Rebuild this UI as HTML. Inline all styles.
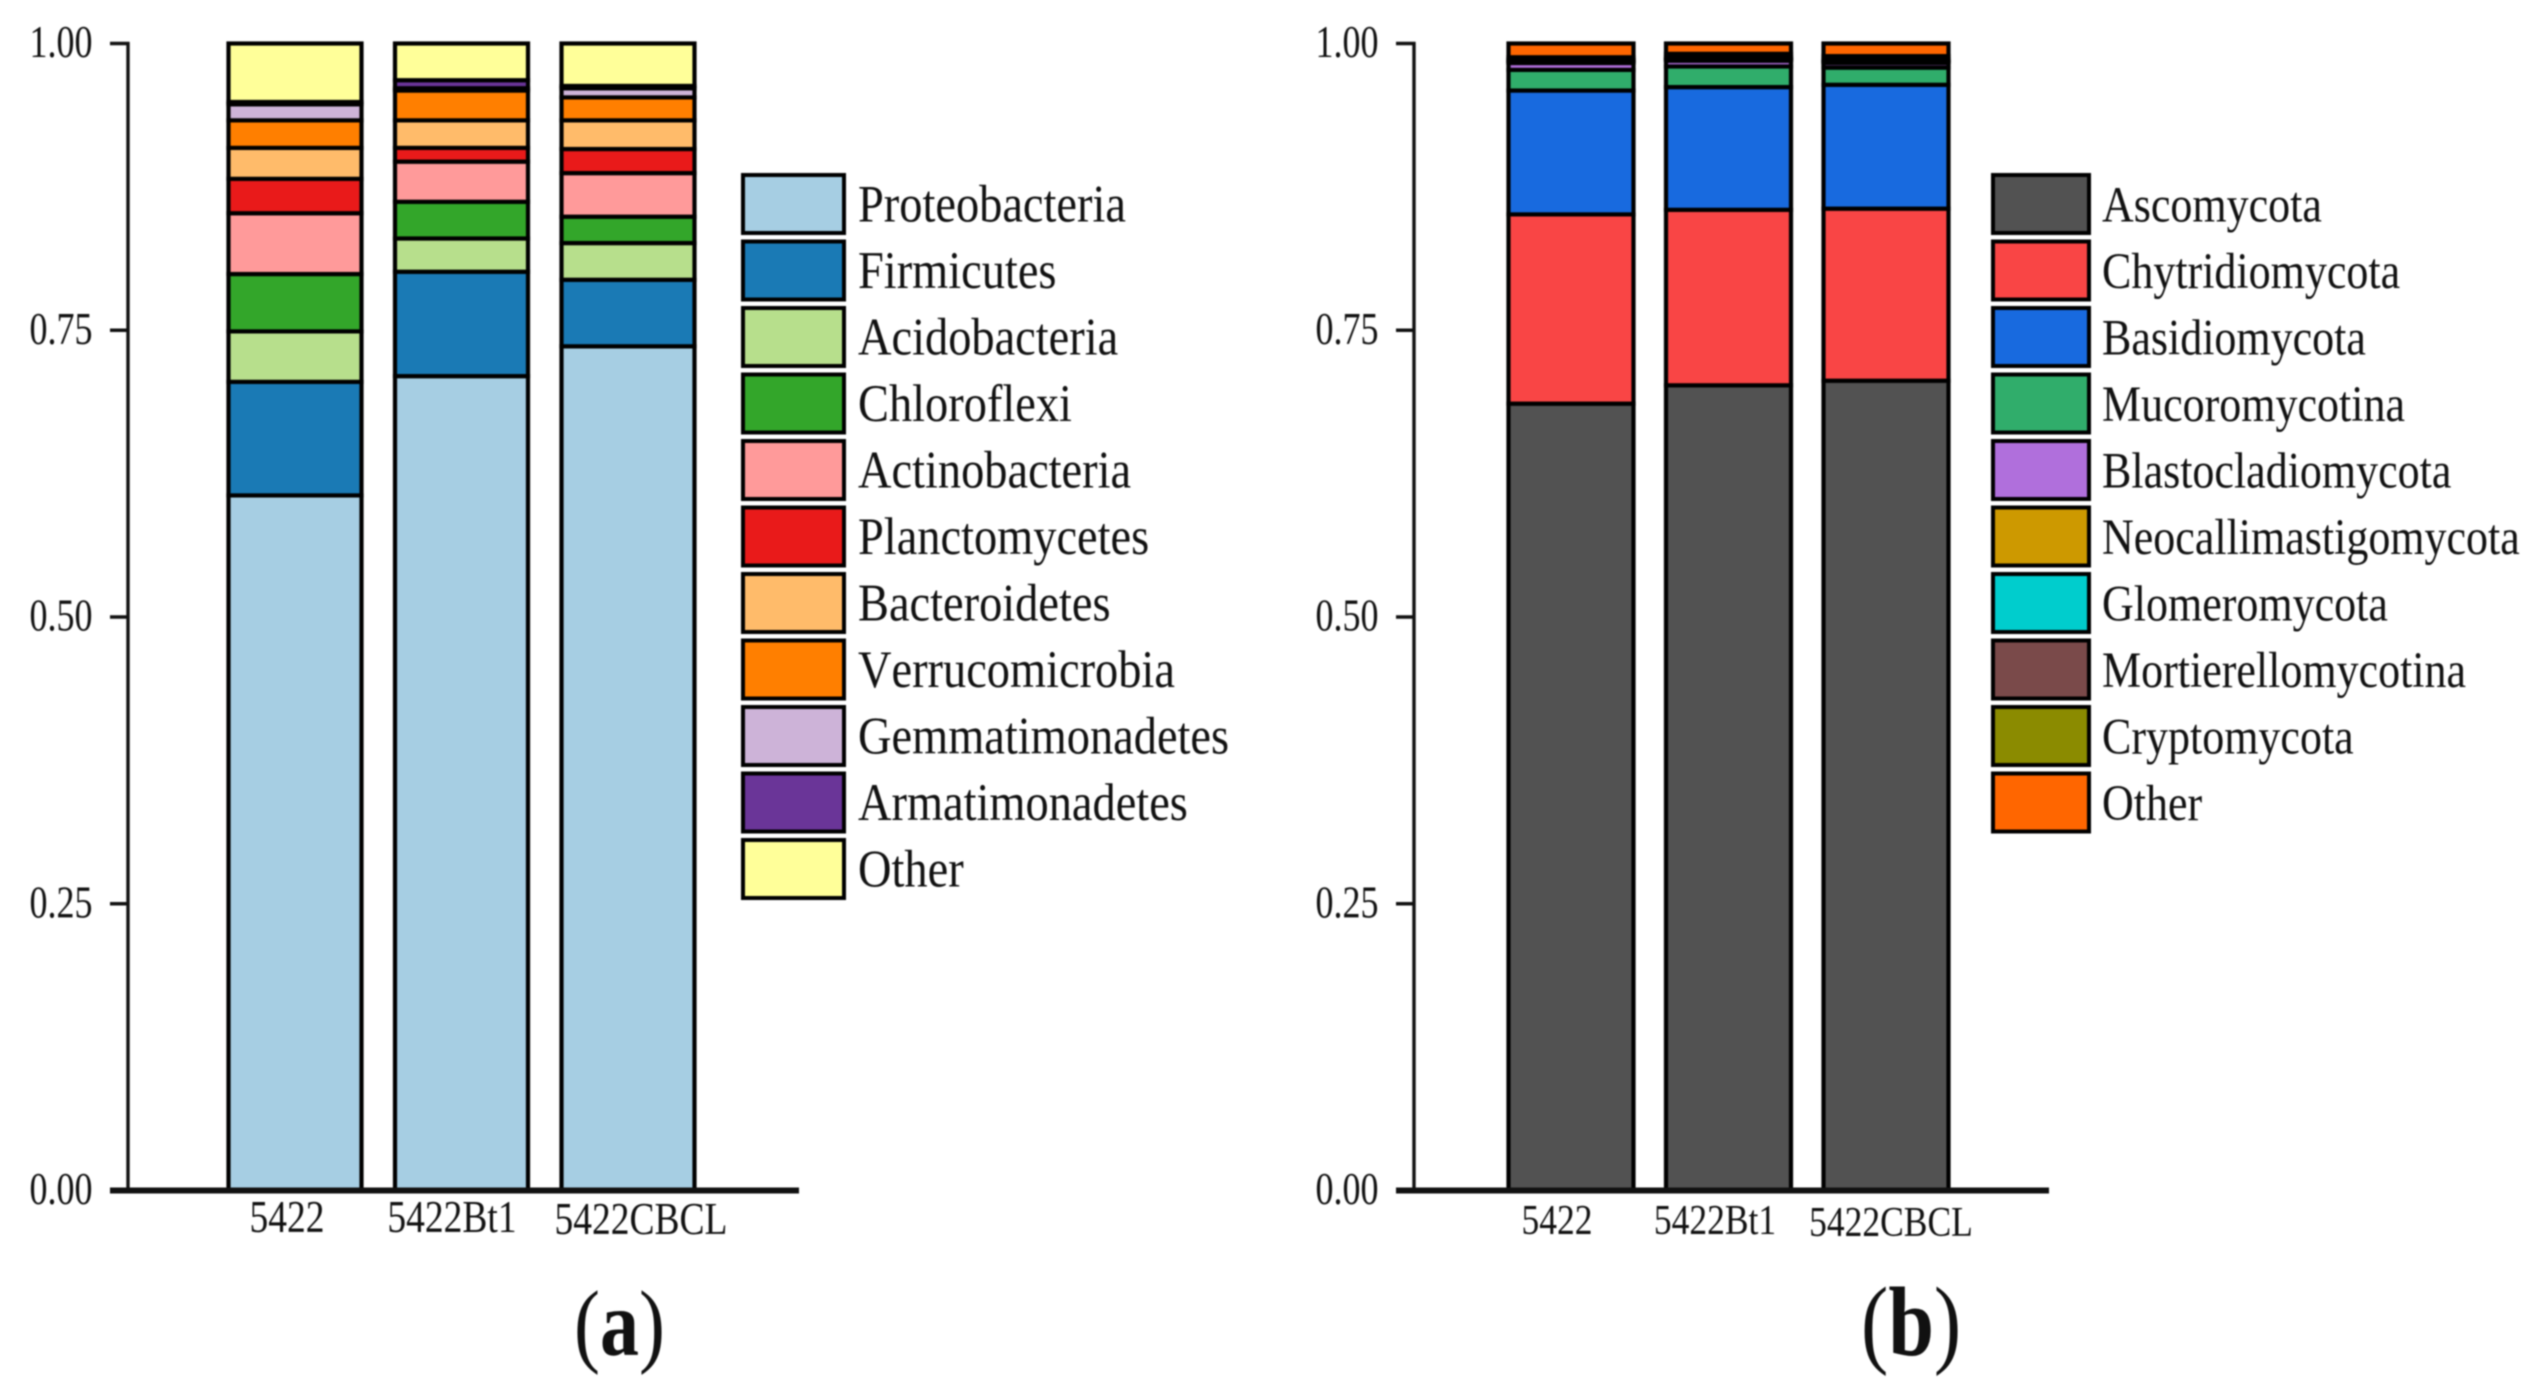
<!DOCTYPE html>
<html lang="en">
<head>
<meta charset="utf-8">
<title>Relative abundance of bacterial and fungal phyla</title>
<style>
html,body{margin:0;padding:0;background:#fff;width:2542px;height:1393px;overflow:hidden}
svg{display:block;filter:blur(0.7px)}
text{font-family:"Liberation Serif",serif;fill:#111;font-kerning:none}
</style>
</head>
<body>
<svg id="figure" xmlns="http://www.w3.org/2000/svg" width="2542" height="1393" viewBox="0 0 2542 1393"></svg>
<script>
// Shared data
const sampleLabels = ['5422', '5422Bt1', '5422CBCL'];
const tickValues = [0, 0.25, 0.5, 0.75, 1];
const tickLabels = ['0.00', '0.25', '0.50', '0.75', '1.00'];

// Panel (a): bacteria
const bacteriaNames = ['Proteobacteria','Firmicutes','Acidobacteria','Chloroflexi','Actinobacteria','Planctomycetes','Bacteroidetes','Verrucomicrobia','Gemmatimonadetes','Armatimonadetes','Other'];
const bacteriaColors = ['#a6cee3','#1a7ab5','#b7df8c','#33a62a','#ff9a9a','#e91a1a','#ffbb6a','#ff7f00','#cdb3d8','#6a3598','#ffff99'];
const proteobacteria = [0.606, 0.710, 0.736];
const firmicutes = [0.099, 0.091, 0.058];
const acidobacteria = [0.044, 0.029, 0.032];
const chloroflexi = [0.050, 0.032, 0.023];
const actinobacteria = [0.053, 0.035, 0.038];
const planctomycetes = [0.030, 0.012, 0.021];
const bacteroidetes = [0.027, 0.024, 0.025];
const verrucomicrobia = [0.024, 0.026, 0.020];
const gemmatimonadetes = [0.014, 0.002, 0.008];
const armatimonadetes = [0.002, 0.007, 0.002];
const otherBacteria = [0.051, 0.032, 0.037];
const bacteriaSeries = [proteobacteria, firmicutes, acidobacteria, chloroflexi, actinobacteria, planctomycetes, bacteroidetes, verrucomicrobia, gemmatimonadetes, armatimonadetes, otherBacteria];

// Panel (b): fungi
const fungiNames = ['Ascomycota','Chytridiomycota','Basidiomycota','Mucoromycotina','Blastocladiomycota','Neocallimastigomycota','Glomeromycota','Mortierellomycotina','Cryptomycota','Other'];
const fungiColors = ['#525252','#f94545','#186adf','#30ad6b','#b06fdc','#cd9900','#00cdcd','#7a4a4a','#8b8b00','#ff6600'];
const ascomycota = [0.686, 0.702, 0.706];
const chytridiomycota = [0.165, 0.153, 0.150];
const basidiomycota = [0.108, 0.107, 0.108];
const mucoromycotina = [0.018, 0.018, 0.015];
const blastocladiomycota = [0.006, 0.005, 0.004];
const neocallimastigomycota = [0.001, 0.001, 0.001];
const glomeromycota = [0.001, 0.001, 0.001];
const mortierellomycotina = [0.001, 0.001, 0.001];
const cryptomycota = [0.002, 0.003, 0.003];
const otherFungi = [0.012, 0.009, 0.011];
const fungiSeries = [ascomycota, chytridiomycota, basidiomycota, mucoromycotina, blastocladiomycota, neocallimastigomycota, glomeromycota, mortierellomycotina, cryptomycota, otherFungi];

const NS = 'http://www.w3.org/2000/svg';
const figure = document.getElementById('figure');

function slug(s) {
  return s.toLowerCase().replace(/[^a-z0-9]+/g, '-');
}

function yScale(v) {
  return 1190.5 - v * 1147;
}

function addLine(parent, x1, y1, x2, y2, w, name) {
  const el = document.createElementNS(NS, 'line');
  el.setAttribute('x1', x1);
  el.setAttribute('y1', y1);
  el.setAttribute('x2', x2);
  el.setAttribute('y2', y2);
  el.setAttribute('stroke', '#111');
  el.setAttribute('stroke-width', w);
  
  
  parent.appendChild(el);
  return el;
}

function addText(parent, str, x, y, size, sy, anchor, name) {
  const el = document.createElementNS(NS, 'text');
  el.textContent = str;
  el.setAttribute('transform', 'translate(' + x + ' ' + y + ') scale(1 ' + sy + ')');
  el.setAttribute('font-size', size);
  el.setAttribute('text-anchor', anchor);
  
  
  parent.appendChild(el);
  return el;
}

function drawPanel(cfg) {
  const g = document.createElementNS(NS, 'g');
  
  
  figure.appendChild(g);

  const xScale = function (i) {
    return cfg.barStart + i * cfg.barStep;
  };

  // bars
  sampleLabels.forEach(function (label, i) {
    const bar = document.createElementNS(NS, 'g');
    
    
    g.appendChild(bar);
    let cum = 0;
    cfg.series.forEach(function (vals, s) {
      const top = cum + vals[i];
      const rect = document.createElementNS(NS, 'rect');
      rect.setAttribute('x', xScale(i));
      rect.setAttribute('y', yScale(top));
      rect.setAttribute('width', cfg.barWidth);
      rect.setAttribute('height', yScale(cum) - yScale(top));
      rect.setAttribute('fill', cfg.colors[s]);
      rect.setAttribute('stroke', '#000');
      rect.setAttribute('stroke-width', 4.2);
      
      
      bar.appendChild(rect);
      cum = top;
    });
  });

  // y axis
  addLine(g, cfg.axisX, yScale(1) - 1.5, cfg.axisX, yScale(0), 3.4, 'y-axis-line');
  tickValues.forEach(function (v, i) {
    addLine(g, cfg.axisX - 18, yScale(v), cfg.axisX + 1.5, yScale(v), 3.4, 'y-tick');
    addText(g, tickLabels[i], cfg.axisX - 35.5, yScale(v) + 13.5, 36, 1.26, 'end', 'y-tick-label');
  });

  // x axis
  addLine(g, cfg.xAxisStart, yScale(0), cfg.xAxisEnd, yScale(0), 6, 'x-axis-line');
  sampleLabels.forEach(function (label, i) {
    addText(g, label, cfg.labelX[i], cfg.labelY[i], cfg.labelSize, 1.2, 'middle', 'x-label-' + slug(label));
  });

  // legend
  const legend = document.createElementNS(NS, 'g');
  
  
  g.appendChild(legend);
  cfg.names.forEach(function (n, i) {
    const top = 175 + i * 66.5;
    const sw = document.createElementNS(NS, 'rect');
    sw.setAttribute('x', cfg.legendX);
    sw.setAttribute('y', top);
    sw.setAttribute('width', cfg.legendW);
    sw.setAttribute('height', 58);
    sw.setAttribute('fill', cfg.colors[i]);
    sw.setAttribute('stroke', '#000');
    sw.setAttribute('stroke-width', 4);
    
    
    legend.appendChild(sw);
    addText(legend, n, cfg.legendTextX, 221.5 + i * 66.5, cfg.legendSize, 1.15, 'start', 'legend-label-' + slug(n));
  });

  // panel letter
  const letter = document.createElementNS(NS, 'text');
  letter.setAttribute('transform', 'translate(' + cfg.letterX + ' 1355) scale(1 1.2)');
  letter.setAttribute('font-size', cfg.letterSize);
  
  
  const t1 = document.createElementNS(NS, 'tspan');
  t1.textContent = '(';
  const t2 = document.createElementNS(NS, 'tspan');
  t2.textContent = cfg.letter;
  t2.setAttribute('font-weight', 'bold');
  const t3 = document.createElementNS(NS, 'tspan');
  t3.textContent = ')';
  letter.appendChild(t1);
  letter.appendChild(t2);
  letter.appendChild(t3);
  g.appendChild(letter);
}

drawPanel({
  name: 'panel-a-bacteria', letter: 'a', letterX: 574, letterSize: 78,
  series: bacteriaSeries, names: bacteriaNames, colors: bacteriaColors,
  barStart: 228.5, barWidth: 133, barStep: 166.5,
  axisX: 128, xAxisStart: 110, xAxisEnd: 799,
  labelX: [287, 452, 641], labelY: [1232, 1232, 1234], labelSize: 37.5,
  legendX: 743, legendW: 101, legendTextX: 858, legendSize: 46.4
});

drawPanel({
  name: 'panel-b-fungi', letter: 'b', letterX: 1861, letterSize: 82,
  series: fungiSeries, names: fungiNames, colors: fungiColors,
  barStart: 1508.5, barWidth: 125, barStep: 157.5,
  axisX: 1414, xAxisStart: 1396, xAxisEnd: 2049,
  labelX: [1557, 1715, 1891], labelY: [1234, 1234, 1236], labelSize: 35.5,
  legendX: 1993, legendW: 96, legendTextX: 2102, legendSize: 44
});
</script>
</body>
</html>
